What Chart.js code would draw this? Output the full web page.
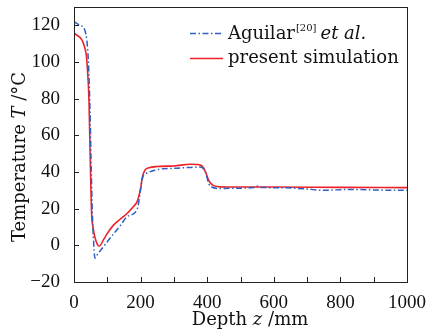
<!DOCTYPE html>
<html>
<head>
<meta charset="utf-8">
<script src="https://cdn.jsdelivr.net/npm/chart.js@4"></script>
<style>
  html, body { margin: 0; padding: 0; background: #fff; }
  #wrap { width: 431px; height: 331px; }
</style>
</head>
<body>
<div id="wrap"><canvas id="chart" width="431" height="331"></canvas></div>
<script>
// ============ Data ============
const aguilarDepth = [0, 18, 33, 43, 48, 52, 55, 58, 63, 70, 83, 100, 120, 140, 158, 188, 193, 198, 203, 208, 218, 240, 268, 300, 340, 378, 388, 393, 398, 403, 408, 413, 438, 500, 540, 550, 560, 628, 700, 748, 828, 928, 1000];
const aguilarTemp  = [122, 120, 117, 101, 74, 40, 18, 5, -7, -5, -2, 2, 6.5, 11, 15.4, 19, 22, 28, 34, 38, 39.4, 40.8, 41.8, 42, 42.4, 42.7, 42, 41, 38, 34.5, 32.5, 31.8, 31, 31.2, 31.5, 32.3, 31.6, 31.4, 30.7, 30, 30.5, 30.1, 30];

const simDepth = [0, 36, 40, 45, 49, 53, 57, 62, 70, 76, 90, 100, 118, 140, 160, 178, 190, 195, 200, 205, 213, 225, 250, 300, 350, 370, 385, 395, 403, 410, 418, 438, 500, 600, 800, 1000];
const simTemp  = [116, 105, 97, 79, 45, 17, 10, 5, 0.5, -0.4, 3.5, 6.5, 10.9, 14.5, 17.5, 21, 24, 27, 31, 37, 41, 42.3, 43, 43.3, 44.2, 44.1, 43.2, 40, 36, 34, 32.7, 31.9, 31.8, 31.8, 31.6, 31.5];

const xTicks = [0, 100, 200, 300, 400, 500, 600, 700, 800, 900, 1000];
const yTicks = [-20, 0, 20, 40, 60, 80, 100, 120];

const BLUE = '#2f5fc0';
const RED = '#ee2028';
const TICK_FONT = '"Liberation Serif", serif';
const TEXT_FONT = '"DejaVu Serif", serif';

function toPoints(xs, ys) {
  return xs.map((x, i) => ({ x: x, y: ys[i] }));
}

// draw a run of differently styled text pieces on one baseline
function drawParts(ctx, parts, cx, baseline) {
  let total = 0;
  parts.forEach(p => { ctx.font = p.f; p.w = ctx.measureText(p.t).width; total += p.w; });
  let x = cx - total / 2;
  ctx.textAlign = 'left';
  parts.forEach(p => {
    ctx.font = p.f;
    ctx.fillText(p.t, x, baseline);
    x += p.w;
  });
}

// ============ Frame, inward ticks, titles, legend ============
const decorPlugin = {
  id: 'decor',
  afterDraw(chart) {
    const ctx = chart.ctx;
    const a = chart.chartArea;
    const xs = chart.scales.x;
    const ys = chart.scales.y;
    ctx.save();

    // frame
    ctx.strokeStyle = '#222';
    ctx.lineWidth = 1;
    ctx.strokeRect(Math.round(a.left) + 0.5, Math.round(a.top) + 0.5,
      Math.round(a.right - a.left), Math.round(a.bottom - a.top));

    // inward ticks
    ctx.beginPath();
    xTicks.forEach(v => {
      const px = Math.round(xs.getPixelForValue(v)) + 0.5;
      ctx.moveTo(px, a.bottom);
      ctx.lineTo(px, a.bottom - 5);
    });
    yTicks.forEach(v => {
      const py = Math.round(ys.getPixelForValue(v)) + 0.5;
      ctx.moveTo(a.left, py);
      ctx.lineTo(a.left + 5, py);
    });
    ctx.stroke();

    ctx.fillStyle = '#111';
    ctx.textBaseline = 'alphabetic';

    // x title: Depth z /mm
    drawParts(ctx, [
      { t: 'Depth ', f: '18px ' + TEXT_FONT },
      { t: 'z', f: 'italic 18px ' + TEXT_FONT },
      { t: ' /mm', f: '18px ' + TEXT_FONT }
    ], 250, 325);

    // y title: Temperature T /°C (rotated)
    ctx.save();
    ctx.translate(25, 157);
    ctx.rotate(-Math.PI / 2);
    drawParts(ctx, [
      { t: 'Temperature ', f: '18px ' + TEXT_FONT },
      { t: 'T', f: 'italic 18px ' + TEXT_FONT },
      { t: ' /°C', f: '18px ' + TEXT_FONT }
    ], 0, 0);
    ctx.restore();

    // legend
    ctx.lineWidth = 1.5;
    ctx.strokeStyle = BLUE;
    ctx.setLineDash([6, 2.5, 1.5, 2.5]);
    ctx.beginPath();
    ctx.moveTo(190, 33.5);
    ctx.lineTo(223, 33.5);
    ctx.stroke();
    ctx.setLineDash([]);
    ctx.strokeStyle = RED;
    ctx.beginPath();
    ctx.moveTo(190, 58.5);
    ctx.lineTo(223, 58.5);
    ctx.stroke();

    let x = 228;
    ctx.textAlign = 'left';
    ctx.font = '18px ' + TEXT_FONT;
    ctx.fillText('Aguilar', x, 39);
    x += ctx.measureText('Aguilar').width + 1;
    ctx.font = '10px ' + TEXT_FONT;
    ctx.fillText('[20]', x, 31);
    x += ctx.measureText('[20]').width + 4;
    ctx.font = 'italic 18px ' + TEXT_FONT;
    ctx.fillText('et al.', x, 39);

    ctx.font = '18px ' + TEXT_FONT;
    ctx.fillText('present simulation', 228, 63);

    ctx.restore();
  }
};

// ============ Chart ============
new Chart(document.getElementById('chart'), {
  type: 'line',
  data: {
    datasets: [
      {
        label: 'Aguilar et al.',
        data: toPoints(aguilarDepth, aguilarTemp),
        borderColor: BLUE,
        borderWidth: 1.5,
        borderDash: [6, 2.5, 1.5, 2.5],
        pointRadius: 0,
        cubicInterpolationMode: 'monotone',
        fill: false
      },
      {
        label: 'present simulation',
        data: toPoints(simDepth, simTemp),
        borderColor: RED,
        borderWidth: 1.6,
        pointRadius: 0,
        cubicInterpolationMode: 'monotone',
        fill: false
      }
    ]
  },
  options: {
    responsive: false,
    animation: false,
    layout: { padding: { left: 0, right: 24, top: 7, bottom: 0 } },
    plugins: {
      legend: { display: false },
      tooltip: { enabled: false }
    },
    scales: {
      x: {
        type: 'linear',
        min: 0,
        max: 1000,
        afterBuildTicks: s => { s.ticks = xTicks.map(v => ({ value: v })); },
        afterFit: s => { s.height = 49; s.paddingLeft = 0; s.paddingRight = 0; },
        grid: { display: false },
        border: { display: false },
        ticks: {
          color: '#111',
          font: { family: TICK_FONT, size: 19 },
          padding: 2,
          maxRotation: 0,
          autoSkip: false,
          callback: v => (v % 200 === 0 ? String(v) : '')
        }
      },
      y: {
        min: -20,
        max: 130,
        afterBuildTicks: s => { s.ticks = yTicks.map(v => ({ value: v })); },
        afterFit: s => { s.width = 74; s.paddingTop = 0; s.paddingBottom = 0; },
        grid: { display: false },
        border: { display: false },
        ticks: {
          color: '#111',
          font: { family: TICK_FONT, size: 19 },
          padding: 6,
          callback: v => (v < 0 ? '\u2212' + Math.abs(v) : String(v))
        }
      }
    }
  },
  plugins: [decorPlugin]
});
</script>
</body>
</html>
